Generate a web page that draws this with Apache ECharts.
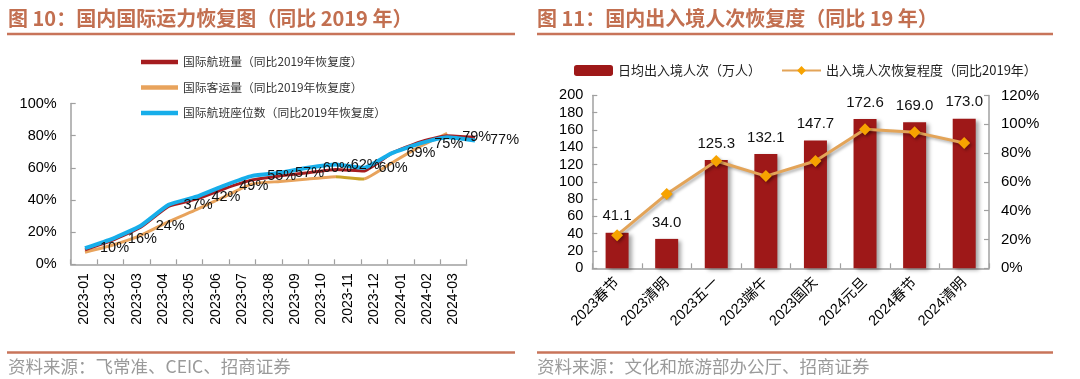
<!DOCTYPE html>
<html>
<head>
<meta charset="utf-8">
<script src="https://cdn.jsdelivr.net/npm/echarts@6/dist/echarts.min.js"></script>
<style>
html,body{margin:0;padding:0;background:#fff;}
#c{width:1080px;height:379px;}
</style>
</head>
<body>
<div id="c"></div>
<script>
// ---- Left chart data (recovery vs 2019, %) ----
const leftCats = ['2023-01','2023-02','2023-03','2023-04','2023-05','2023-06','2023-07','2023-08','2023-09','2023-10','2023-11','2023-12','2024-01','2024-02','2024-03'];
const flightVol   = [9, 15, 23, 36, 40.5, 47, 52.5, 55, 57, 59, 58, 69, 76, 80, 79];
const passengerVol = [7.5, 12, 18, 26.5, 34, 42, 50, 51.5, 53, 54.5, 53, 63, 73, 81.5, null];
const seatVol     = [10, 16, 24, 37, 42, 49, 55, 57, 60, 62, 60, 69, 75, 79, 77];
const leftNames = ['国际航班量（同比2019年恢复度）','国际客运量（同比2019年恢复度）','国际航班座位数（同比2019年恢复度）'];

// ---- Right chart data ----
const rightCats = ['2023春节','2023清明','2023五一','2023端午','2023国庆','2024元旦','2024春节','2024清明'];
const dailyTrips = [41.1, 34.0, 125.3, 132.1, 147.7, 172.6, 169.0, 173.0];
const recoveryPct = [23, 51.5, 74.5, 64, 74.5, 96.5, 94.5, 87];
const rightNames = ['日均出入境人次（万人）','出入境人次恢复程度（同比2019年）'];

const CJK = '"Noto Sans CJK SC", sans-serif';
const NUM = '"Liberation Sans", Arial, "Noto Sans CJK SC", sans-serif';
const AX = '#A0A0A0';
const TITLE = '#C26F50';
const RED = '#A51C1F', ORANGE = '#E8A35C', BLUE = '#17AEEA', BAR = '#9E1818', LINE2 = '#E3A458', DIAMOND = '#F7A300';

const chart = echarts.init(document.getElementById('c'));

const axisLineStyle = {show: true, lineStyle: {color: AX, width: 1.5}};
const tickIn = {show: true, inside: true, length: 5, lineStyle: {color: AX, width: 1.2}};

chart.setOption({
  animation: false,
  backgroundColor: '#fff',
  graphic: [
    {type: 'text', left: 8, top: 8, style: {text: '图 10：国内国际运力恢复图（同比 2019 年）', fill: TITLE, font: 'bold 20px ' + CJK}},
    {type: 'text', left: 537, top: 8, style: {text: '图 11：国内出入境人次恢复度（同比 19 年）', fill: TITLE, font: 'bold 20px ' + CJK}},
    {type: 'line', shape: {x1: 7, y1: 34, x2: 515, y2: 34}, style: {stroke: '#C8745A', lineWidth: 2.5}},
    {type: 'line', shape: {x1: 537, y1: 34, x2: 1053, y2: 34}, style: {stroke: '#C8745A', lineWidth: 2.5}},
    {type: 'line', shape: {x1: 7, y1: 352.5, x2: 515, y2: 352.5}, style: {stroke: '#C8745A', lineWidth: 2.5}},
    {type: 'line', shape: {x1: 537, y1: 352.5, x2: 1053, y2: 352.5}, style: {stroke: '#C8745A', lineWidth: 2.5}},
    {type: 'text', left: 8, top: 358, style: {text: '资料来源：飞常准、CEIC、招商证券', fill: '#9A9A9A', font: '17.5px ' + CJK}},
    {type: 'text', left: 537, top: 358, style: {text: '资料来源：文化和旅游部办公厅、招商证券', fill: '#9A9A9A', font: '17.5px ' + CJK}}
  ],
  legend: [
    {
      data: leftNames, orient: 'vertical', left: 136, top: 50, itemGap: 11.5,
      itemWidth: 37, itemHeight: 4.5, icon: 'rect',
      textStyle: {fontFamily: CJK, fontSize: 11.8, color: '#333', lineHeight: 14, height: 14}
    },
    {
      data: rightNames, orient: 'horizontal', left: 569, top: 59, itemGap: 20,
      itemWidth: 39, itemHeight: 11,
      textStyle: {fontFamily: CJK, fontSize: 13, color: '#222'}
    }
  ],
  grid: [
    {left: 70.7, top: 103.5, width: 396, height: 160.8},
    {left: 85, top: 103.5, width: 390, height: 160.8},
    {left: 592.3, top: 95.4, width: 396.7, height: 172.9}
  ],
  xAxis: [
    {
      gridIndex: 0, type: 'category', data: leftCats, boundaryGap: true,
      axisLine: axisLineStyle, axisTick: tickIn,
      axisLabel: {rotate: 90, margin: 9, fontSize: 14, fontFamily: NUM, color: '#000', interval: 0}
    },
    {gridIndex: 1, type: 'category', data: leftCats, boundaryGap: false, show: false},
    {
      gridIndex: 2, type: 'category', data: rightCats, boundaryGap: true,
      axisLine: axisLineStyle, axisTick: tickIn,
      axisLabel: {rotate: 45, margin: 12, fontSize: 14.5, fontFamily: NUM, color: '#000', interval: 0}
    }
  ],
  yAxis: [
    {
      gridIndex: 0, type: 'value', min: 0, max: 100, interval: 20,
      axisLine: axisLineStyle, axisTick: tickIn, splitLine: {show: false},
      axisLabel: {formatter: '{value}%', margin: 14, fontSize: 14.5, fontFamily: NUM, color: '#000'}
    },
    {gridIndex: 1, type: 'value', min: 0, max: 100, show: false, splitLine: {show: false}},
    {
      gridIndex: 2, type: 'value', min: 0, max: 200, interval: 20,
      axisLine: axisLineStyle, axisTick: tickIn, splitLine: {show: false},
      axisLabel: {margin: 9, fontSize: 14.5, fontFamily: NUM, color: '#000'}
    },
    {
      gridIndex: 2, type: 'value', min: 0, max: 120, interval: 20, position: 'right',
      axisLine: axisLineStyle, axisTick: tickIn, splitLine: {show: false},
      axisLabel: {formatter: '{value}%', margin: 12, fontSize: 15, fontFamily: NUM, color: '#000'}
    }
  ],
  visualMap: [{
    type: 'piecewise', show: false, seriesIndex: 1, dimension: 0,
    pieces: [{lt: 9, color: ORANGE}, {gte: 9, lte: 10, color: '#C9A227'}, {gt: 10, color: ORANGE}]
  }],
  series: [
    {
      name: leftNames[0], type: 'line', xAxisIndex: 1, yAxisIndex: 1, data: flightVol,
      smooth: 0.15, symbol: 'none', color: RED, lineStyle: {color: RED, width: 3}, z: 3
    },
    {
      name: leftNames[1], type: 'line', xAxisIndex: 1, yAxisIndex: 1, data: passengerVol,
      smooth: 0.15, symbol: 'none', color: ORANGE, lineStyle: {width: 3}, z: 2
    },
    {
      name: leftNames[2], type: 'line', xAxisIndex: 1, yAxisIndex: 1, data: seatVol,
      smooth: 0.15, symbol: 'circle', symbolSize: 0.01, showSymbol: true, color: BLUE,
      lineStyle: {color: BLUE, width: 4}, z: 4,
      label: {show: true, position: 'right', distance: 15, formatter: '{c}%', fontSize: 14.5, fontFamily: NUM, color: '#111'}
    },
    {
      name: rightNames[0], type: 'bar', xAxisIndex: 2, yAxisIndex: 2, data: dailyTrips,
      barWidth: 23, color: BAR,
      itemStyle: {color: BAR, shadowColor: 'rgba(0,0,0,0.35)', shadowBlur: 4, shadowOffsetX: 3, shadowOffsetY: 2},
      label: {show: true, position: 'top', distance: 9, fontSize: 15, fontFamily: NUM, color: '#111',
        formatter: p => p.value.toFixed(1)}
    },
    {
      name: rightNames[1], type: 'line', xAxisIndex: 2, yAxisIndex: 3, data: recoveryPct,
      symbol: 'diamond', symbolSize: 12, color: DIAMOND,
      itemStyle: {color: DIAMOND, shadowColor: 'rgba(0,0,0,0.3)', shadowBlur: 3, shadowOffsetX: 2, shadowOffsetY: 2},
      lineStyle: {color: LINE2, width: 3, shadowColor: 'rgba(0,0,0,0.3)', shadowBlur: 3, shadowOffsetX: 2, shadowOffsetY: 2},
      z: 5
    }
  ]
});
</script>
</body>
</html>
